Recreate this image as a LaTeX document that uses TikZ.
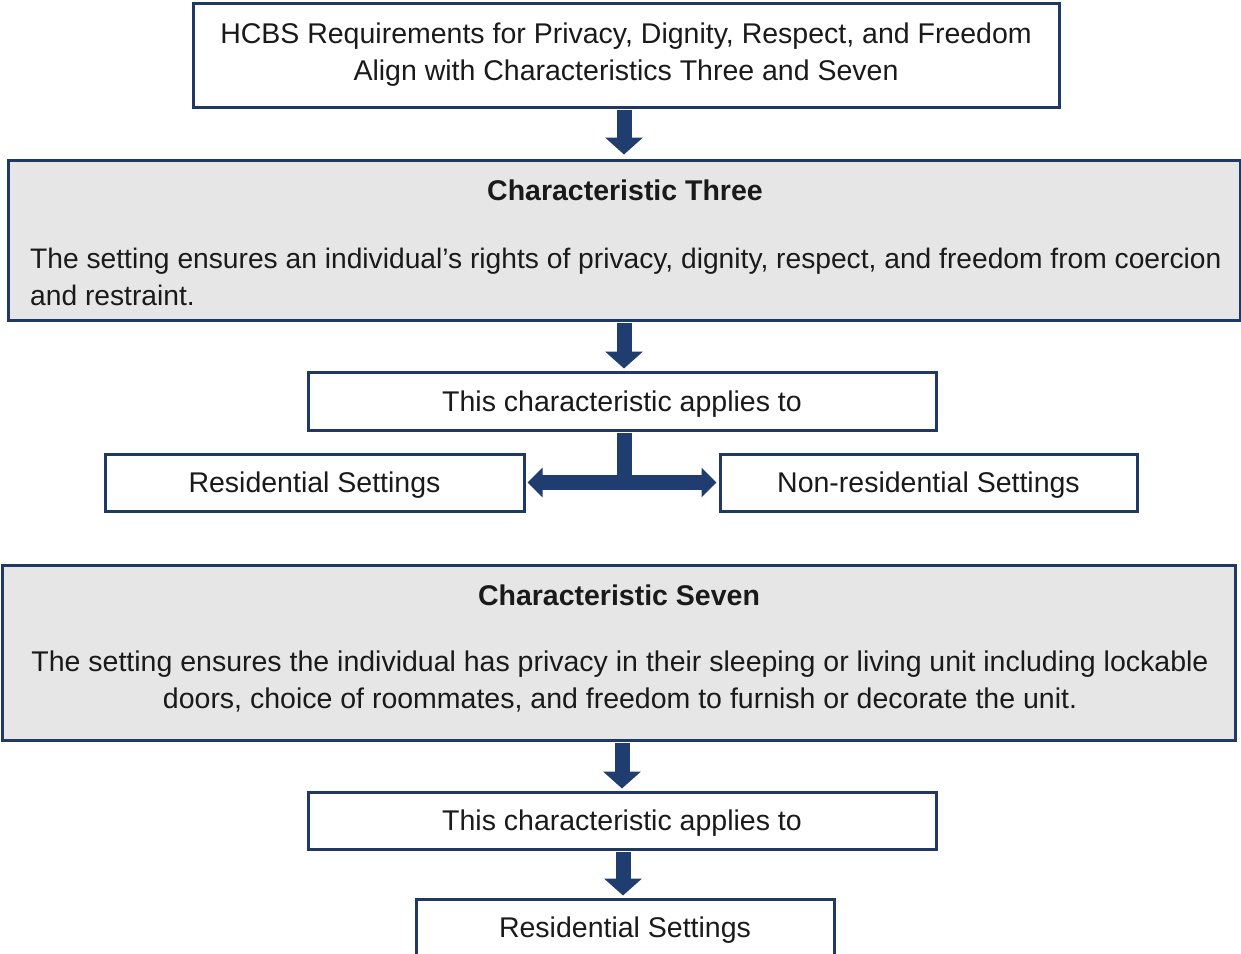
\documentclass[tikz,border=0pt]{standalone}
\usepackage{fontspec}
\setmainfont{Liberation Sans}
\usetikzlibrary{arrows.meta}
\definecolor{navy}{HTML}{1F3864}
\definecolor{arrowblue}{HTML}{1F3D6E}
\definecolor{panel}{HTML}{E7E6E6}
\definecolor{ink}{HTML}{1A1A1A}
\begin{document}
\begin{tikzpicture}[x=1pt,y=-1pt,
  box/.style={draw=navy,line width=3pt,fill=white,rectangle,inner sep=0pt,
    text=ink,font=\fontsize{28.5}{37}\selectfont},
  oneline/.style={box,text height=20.5pt,text depth=0pt},
  panelbox/.style={box,fill=panel},
  txt/.style={inner sep=0pt,text=ink,font=\fontsize{28.5}{37}\selectfont},
  bigarrow/.style={draw=arrowblue,line width=15pt,
    -{Triangle[width=37pt,length=17pt]}},
  bigboth/.style={draw=arrowblue,line width=15pt,
    {Triangle[width=29pt,length=15pt]}-{Triangle[width=29pt,length=15pt]}},
  bigline/.style={draw=arrowblue,line width=15pt}
]
\useasboundingbox (0,0) rectangle (1241,953);

% top statement
\node[box,minimum width=866pt,minimum height=104pt,align=center] (top) at (626,55)
  {HCBS Requirements for Privacy, Dignity, Respect, and Freedom\\Align with Characteristics Three and Seven};

% characteristic three
\node[panelbox,minimum width=1232pt,minimum height=160pt] (three) at (624,240) {};
\node[txt,font=\fontsize{28.5}{37}\selectfont\bfseries] (threetitle) at (625,190) {Characteristic Three};
\node[txt,align=left,anchor=west,font=\fontsize{28.2}{37}\selectfont] (threebody) at (30,276.5)
  {The setting ensures an individual’s rights of privacy, dignity, respect, and freedom from coercion\\and restraint.};

\node[oneline,minimum width=628pt,minimum height=58pt] (applies1) at (622,401) {This characteristic applies to};
\node[oneline,minimum width=419pt,minimum height=57pt] (res1) at (314.5,482.5) {Residential Settings};
\node[oneline,minimum width=417pt,minimum height=57pt] (nonres) at (928.5,482.5) {Non-residential Settings};

% characteristic seven
\node[panelbox,minimum width=1233pt,minimum height=175pt] (seven) at (618.5,652.5) {};
\node[txt,font=\fontsize{28.5}{37}\selectfont\bfseries] (seventitle) at (619,595) {Characteristic Seven};
\node[txt,align=center] (sevenbody) at (620,681.5)
  {The setting ensures the individual has privacy in their sleeping or living unit including lockable\\doors, choice of roommates, and freedom to furnish or decorate the unit.};

\node[oneline,minimum width=628pt,minimum height=57pt] (applies2) at (622,820.5) {This characteristic applies to};
\node[oneline,minimum width=418pt,minimum height=56pt] (res2) at (625,927) {Residential Settings};

% connectors
\draw[bigarrow,shorten >=4pt,shorten <=1.5pt] (top.south -| 624,0) -- (three.north -| 624,0);
\draw[bigarrow,shorten >=2pt,shorten <=1.5pt] (three.south -| 624,0) -- (applies1.north -| 624,0);
\draw[bigline,shorten <=1.5pt] (applies1.south -| 624,0) -- (res1.east -| 624,0);
\draw[bigboth,shorten <=2pt,shorten >=2pt] (res1.east) -- (nonres.west);
\draw[bigarrow,shorten >=2pt,shorten <=1.5pt] (seven.south -| 622,0) -- (applies2.north -| 622,0);
\draw[bigarrow,shorten >=2pt,shorten <=1.5pt] (applies2.south -| 623,0) -- (res2.north -| 623,0);
\end{tikzpicture}
\end{document}
